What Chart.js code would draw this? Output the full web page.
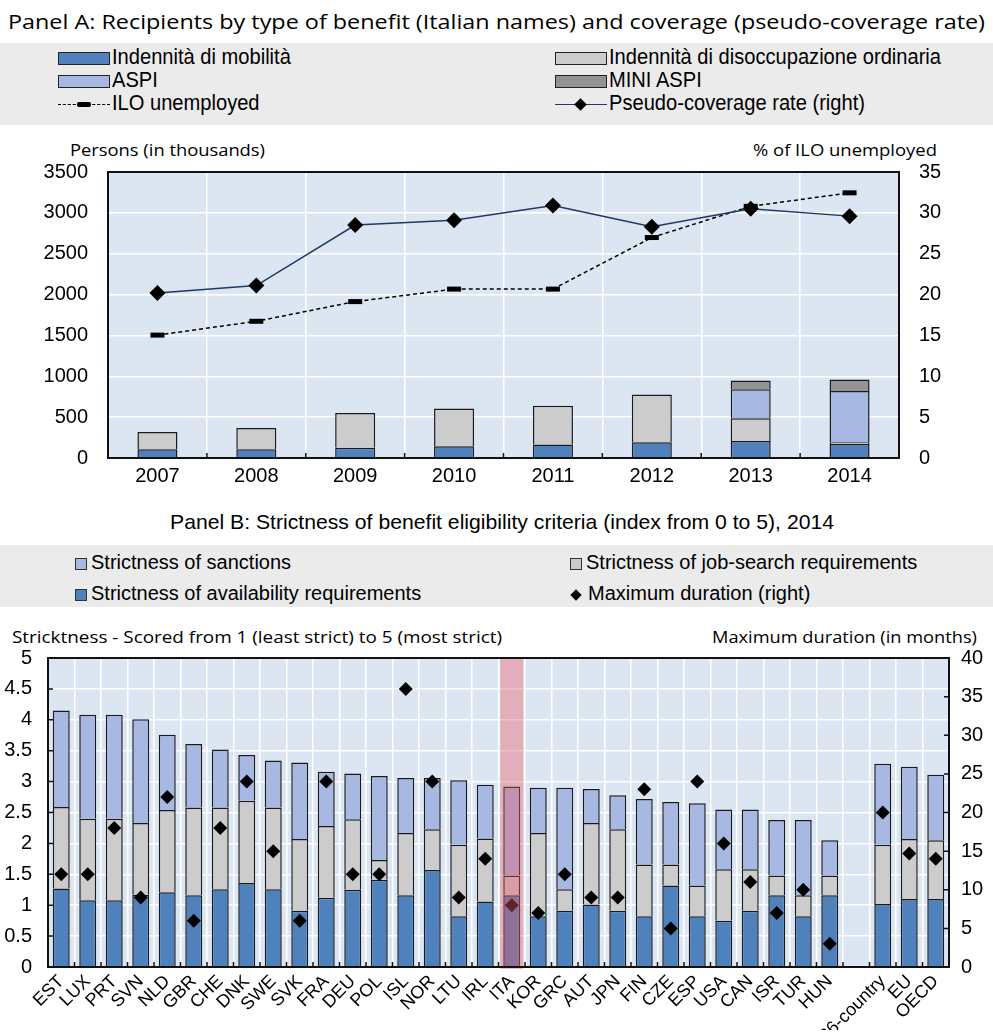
<!DOCTYPE html>
<html>
<head>
<meta charset="utf-8">
<script src="https://cdn.jsdelivr.net/npm/chart.js@4.4.1/dist/chart.umd.min.js"></script>
<style>
  body { margin: 0; width: 993px; height: 1032px; background: #fff; position: relative; overflow: hidden; font-family: "Liberation Sans", Arial, sans-serif; color: #000; }
  .t { position: absolute; white-space: nowrap; transform-origin: left center; }
  .box { position: absolute; left: 0; width: 993px; background: #ebebeb; }
  .sw { display: inline-block; vertical-align: middle; box-sizing: border-box; }
  .chart { position: absolute; left: 0; width: 993px; }
</style>
</head>
<body>

<div class="t" id="titleA" style="left:8px; top:8px; font-family:'Open Sans'; font-size:20px; line-height:28px;">Panel A: Recipients by type of benefit (Italian names) and coverage (pseudo-coverage rate)</div>

<div class="box" style="top:43px; height:82px;"></div>
<div class="t legA" style="left:58px; top:45px; font-size:22px; line-height:24px;"><span class="sw" style="width:52px;height:13px;background:#4f81bd;border:1.5px solid #222;margin-right:2px;"></span><span class="lt">Indennità di mobilità</span></div>
<div class="t legA" style="left:58px; top:68px; font-size:22px; line-height:24px;"><span class="sw" style="width:52px;height:13px;background:#a7b9e3;border:1.5px solid #222;margin-right:2px;"></span><span class="lt">ASPI</span></div>
<div class="t legA" style="left:58px; top:91px; font-size:22px; line-height:24px;"><span class="sw" style="width:52px;height:13px;position:relative;margin-right:2px;"><span style="position:absolute;left:0;right:0;top:6px;border-top:1.5px dashed #000;"></span><span style="position:absolute;left:19px;top:4px;width:14px;height:5px;border-radius:2px;background:#000;"></span></span><span class="lt">ILO unemployed</span></div>
<div class="t legA" style="left:555px; top:45px; font-size:22px; line-height:24px;"><span class="sw" style="width:52px;height:13px;background:#cccccc;border:1.5px solid #222;margin-right:2px;"></span><span class="lt" id="legRef">Indennità di disoccupazione ordinaria</span></div>
<div class="t legA" style="left:555px; top:68px; font-size:22px; line-height:24px;"><span class="sw" style="width:52px;height:13px;background:#939393;border:1.5px solid #222;margin-right:2px;"></span><span class="lt">MINI ASPI</span></div>
<div class="t legA" style="left:555px; top:91px; font-size:22px; line-height:24px;"><span class="sw" style="width:52px;height:13px;position:relative;margin-right:2px;"><span style="position:absolute;left:0;right:0;top:6px;border-top:1.5px solid #1f3864;"></span><span style="position:absolute;left:21px;top:2px;width:9px;height:9px;background:#000;transform:rotate(45deg);"></span></span><span class="lt">Pseudo-coverage rate (right)</span></div>

<div class="t" id="ayA" style="left:70px; top:140px; font-family:'Open Sans'; font-size:16px; line-height:20px;">Persons (in thousands)</div>
<div class="t" id="ay1A" style="left:753px; top:140px; font-family:'Open Sans'; font-size:16px; line-height:20px;">% of ILO unemployed</div>

<div class="chart" style="top:140px; height:350px;"><canvas id="chartA"></canvas></div>

<div class="t" id="titleB" style="left:170px; top:509px; font-size:21px; line-height:26px;">Panel B: Strictness of benefit eligibility criteria (index from 0 to 5), 2014</div>

<div class="box" style="top:545px; height:62px;"></div>
<div class="t" style="left:75px; top:550px; font-size:20px; line-height:24px;"><span class="sw" style="width:12px;height:12px;background:#a7b9e3;border:1px solid #333;margin-right:4px;"></span>Strictness of sanctions</div>
<div class="t" style="left:75px; top:581px; font-size:20px; line-height:24px;"><span class="sw" style="width:12px;height:12px;background:#4f81bd;border:1px solid #333;margin-right:4px;"></span>Strictness of availability requirements</div>
<div class="t" style="left:570px; top:550px; font-size:20px; line-height:24px;"><span class="sw" style="width:12px;height:12px;background:#cccccc;border:1px solid #333;margin-right:4px;"></span>Strictness of job-search requirements</div>
<div class="t" style="left:572px; top:581px; font-size:20px; line-height:24px;"><span class="sw" style="width:8px;height:8px;background:#000;transform:rotate(45deg);margin-right:8px;"></span>Maximum duration (right)</div>

<div class="t" id="ayB" style="left:12px; top:627px; font-family:'Open Sans'; font-size:16px; line-height:20px;">Stricktness - Scored from 1 (least strict) to 5 (most strict)</div>
<div class="t" id="ay1B" style="left:712px; top:627px; font-family:'Open Sans'; font-size:16px; line-height:20px;">Maximum duration (in months)</div>

<div class="chart" style="top:630px; height:400px;"><canvas id="chartB"></canvas></div>

<script>
// Panel A data (thousands of persons, % for coverage)
const years = ['2007', '2008', '2009', '2010', '2011', '2012', '2013', '2014'];
const mobilita = [108, 108, 124, 145, 165, 193, 209, 170];
const disoccupazione = [209, 258, 427, 462, 474, 583, 277, 22];
const aspi = [null, null, null, null, null, null, 355, 627];
const miniAspi = [null, null, null, null, null, null, 108, 141];
const iloUnemployed = [1504, 1673, 1914, 2067, 2067, 2698, 3080, 3245];
const coverage = [20.2, 21.1, 28.5, 29.1, 30.9, 28.3, 30.5, 29.6];

// Panel B data (index 0-5, months for duration)
const countries = ['EST', 'LUX', 'PRT', 'SVN', 'NLD', 'GBR', 'CHE', 'DNK', 'SWE', 'SVK', 'FRA', 'DEU', 'POL', 'ISL', 'NOR', 'LTU', 'IRL', 'ITA', 'KOR', 'GRC', 'AUT', 'JPN', 'FIN', 'CZE', 'ESP', 'USA', 'CAN', 'ISR', 'TUR', 'HUN', '', '36-country', 'EU', 'OECD'];
const availability = [1.27, 1.08, 1.08, 1.17, 1.21, 1.16, 1.26, 1.36, 1.26, 0.91, 1.12, 1.25, 1.41, 1.16, 1.57, 0.82, 1.06, 1.16, 0.82, 0.91, 1.01, 0.91, 0.82, 1.32, 0.82, 0.75, 0.91, 1.16, 0.82, 1.16, null, 1.02, 1.10, 1.10];
const jobSearch = [1.32, 1.32, 1.32, 1.16, 1.33, 1.42, 1.32, 1.33, 1.32, 1.16, 1.16, 1.14, 0.32, 1.01, 0.66, 1.16, 1.02, 0.32, 1.35, 0.35, 1.32, 1.32, 0.84, 0.34, 0.50, 0.83, 0.67, 0.32, 0.34, 0.32, null, 0.96, 0.97, 0.95];
const sanctions = [1.56, 1.68, 1.68, 1.68, 1.22, 1.03, 0.94, 0.74, 0.76, 1.24, 0.88, 0.74, 1.36, 0.89, 0.83, 1.04, 0.87, 1.44, 0.73, 1.64, 0.55, 0.55, 1.06, 1.01, 1.33, 0.97, 0.97, 0.90, 1.22, 0.57, null, 1.31, 1.17, 1.06];
const maxDuration = [12, 12, 18, 9, 22, 6, 18, 24, 15, 6, 24, 12, 12, 36, 24, 9, 14, 8, 7, 12, 9, 9, 23, 5, 24, 16, 11, 7, 10, 3, null, 20, 14.7, 14];

const tickFont = { family: "'Liberation Sans', sans-serif", size: 20 };
const plain = v => String(v);

// fond bleu clair + cadre noir autour de la zone de tracé, petites graduations internes
const plotFrame = {
    id: 'plotFrame',
    beforeDraw(chart) {
        const { ctx, chartArea: a } = chart;
        ctx.save();
        ctx.fillStyle = '#dce6f2';
        ctx.fillRect(a.left, a.top, a.width, a.height);
        ctx.restore();
    },
    afterDraw(chart, args, opts) {
        const { ctx, chartArea: a, scales } = chart;
        ctx.save();
        ctx.strokeStyle = '#111';
        ctx.lineWidth = 1.5;
        const n = chart.data.labels.length;
        ctx.beginPath();
        for (let i = 1; i < n; i++) {
            const px = (scales.x.getPixelForValue(i - 1) + scales.x.getPixelForValue(i)) / 2;
            ctx.moveTo(px, a.bottom);
            ctx.lineTo(px, a.bottom - 5);
        }
        if (opts.yTicks) {
            scales.y.ticks.forEach(t => {
                const py = scales.y.getPixelForValue(t.value);
                ctx.moveTo(a.left, py); ctx.lineTo(a.left + 5, py);
            });
            scales.y1.ticks.forEach(t => {
                const py = scales.y1.getPixelForValue(t.value);
                ctx.moveTo(a.right, py); ctx.lineTo(a.right - 5, py);
            });
        }
        ctx.stroke();
        ctx.lineWidth = 2;
        ctx.strokeRect(a.left, a.top, a.width, a.height);
        ctx.restore();
    }
};

// bande rouge sur l'Italie
const italyBand = {
    id: 'italyBand',
    afterDatasetsDraw(chart) {
        const { ctx, chartArea: a, scales } = chart;
        const x = scales.x.getPixelForValue(countries.indexOf('ITA'));
        ctx.save();
        ctx.fillStyle = 'rgba(235, 90, 100, 0.4)';
        ctx.fillRect(x - 11.5, a.top, 23, a.height + 2);
        ctx.restore();
    }
};

Chart.defaults.animation = false;

new Chart(document.getElementById('chartA'), {
    type: 'bar',
    data: {
        labels: years,
        datasets: [
            { type: 'line', label: 'Pseudo-coverage rate (right)', data: coverage, yAxisID: 'y1', order: 0,
              borderColor: '#1f3864', borderWidth: 1.5, pointStyle: 'rectRot', pointRadius: 8,
              pointBackgroundColor: '#000', pointBorderColor: '#000', pointBorderWidth: 0 },
            { type: 'line', label: 'ILO unemployed', data: iloUnemployed, yAxisID: 'y', stack: 'ilo', order: 0,
              borderColor: '#000', borderWidth: 1.5, borderDash: [4, 3], pointStyle: 'line', pointRadius: 7,
              pointBorderColor: '#000', pointBorderWidth: 5 },
            { label: 'Indennità di mobilità', data: mobilita, backgroundColor: '#4f81bd', stack: 'a', order: 1 },
            { label: 'Indennità di disoccupazione ordinaria', data: disoccupazione, backgroundColor: '#cccccc', stack: 'a', order: 1 },
            { label: 'ASPI', data: aspi, backgroundColor: '#a7b9e3', stack: 'a', order: 1 },
            { label: 'MINI ASPI', data: miniAspi, backgroundColor: '#939393', stack: 'a', order: 1 }
        ]
    },
    options: {
        responsive: true,
        maintainAspectRatio: false,
        layout: { padding: { top: 26, left: 0, right: 0, bottom: 0 } },
        datasets: { bar: { barPercentage: 0.405, categoryPercentage: 1, borderColor: '#1a1a1a', borderWidth: 1.5 } },
        plugins: { legend: { display: false }, tooltip: { enabled: false }, plotFrame: { yTicks: false } },
        scales: {
            x: {
                stacked: true,
                grid: { color: '#fff', lineWidth: 1.5, drawTicks: false },
                border: { display: false },
                ticks: { color: '#000', font: tickFont, padding: 6 },
                afterFit(s) { s.height = 32; }
            },
            y: {
                stacked: true, min: 0, max: 3500,
                grid: { color: '#fff', lineWidth: 1.5, drawTicks: false },
                border: { display: false },
                ticks: { stepSize: 500, color: '#000', font: tickFont, padding: 20, callback: plain },
                afterFit(s) { s.width = 108; }
            },
            y1: {
                position: 'right', min: 0, max: 35,
                grid: { display: false, drawTicks: false },
                border: { display: false },
                ticks: { stepSize: 5, color: '#000', font: tickFont, padding: 20, callback: plain },
                afterFit(s) { s.width = 94; }
            }
        }
    },
    plugins: [plotFrame]
});

new Chart(document.getElementById('chartB'), {
    type: 'bar',
    data: {
        labels: countries,
        datasets: [
            { type: 'line', label: 'Maximum duration (right)', data: maxDuration, yAxisID: 'y1', order: 0,
              showLine: false, pointStyle: 'rectRot', pointRadius: 7,
              pointBackgroundColor: '#000', pointBorderColor: '#000', pointBorderWidth: 0 },
            { label: 'Strictness of availability requirements', data: availability, backgroundColor: '#4f81bd', order: 1 },
            { label: 'Strictness of job-search requirements', data: jobSearch, backgroundColor: '#cccccc', order: 1 },
            { label: 'Strictness of sanctions', data: sanctions, backgroundColor: '#a7b9e3', order: 1 }
        ]
    },
    options: {
        responsive: true,
        maintainAspectRatio: false,
        layout: { padding: { top: 12, left: 0, right: 0, bottom: 0 } },
        datasets: { bar: { barPercentage: 0.64, categoryPercentage: 1, borderColor: '#1a1a1a', borderWidth: 1.5 } },
        plugins: { legend: { display: false }, tooltip: { enabled: false }, plotFrame: { yTicks: true } },
        scales: {
            x: {
                stacked: true,
                grid: { color: '#fff', lineWidth: 1.5, drawTicks: false },
                border: { display: false },
                ticks: { color: '#000', font: { family: "'Liberation Sans', sans-serif", size: 18 },
                         autoSkip: false, minRotation: 45, maxRotation: 45, padding: 4 },
                afterFit(s) { s.height = 63; }
            },
            y: {
                stacked: true, min: 0, max: 5,
                grid: { color: '#fff', lineWidth: 1.5, drawTicks: false },
                border: { display: false },
                ticks: { stepSize: 0.5, color: '#000', font: tickFont, padding: 16, callback: plain },
                afterFit(s) { s.width = 48; }
            },
            y1: {
                position: 'right', min: 0, max: 40,
                grid: { display: false, drawTicks: false },
                border: { display: false },
                ticks: { stepSize: 5, color: '#000', font: tickFont, padding: 12, callback: plain },
                afterFit(s) { s.width = 44; }
            }
        }
    },
    plugins: [plotFrame, italyBand]
});

// ajuste la largeur des textes HTML sur celle de la figure d'origine
function fit(id, w) {
    const el = document.getElementById(id);
    el.style.transform = 'scaleX(' + (w / el.getBoundingClientRect().width) + ')';
}
fit('titleA', 977);
fit('titleB', 664);
fit('ayA', 195);
fit('ay1A', 184);
fit('ayB', 490);
fit('ay1B', 265);
const k = 332 / document.getElementById('legRef').getBoundingClientRect().width;
document.querySelectorAll('.legA .lt').forEach(el => {
    el.style.display = 'inline-block';
    el.style.transform = 'scaleX(' + k + ')';
    el.style.transformOrigin = 'left center';
});
</script>
</body>
</html>
